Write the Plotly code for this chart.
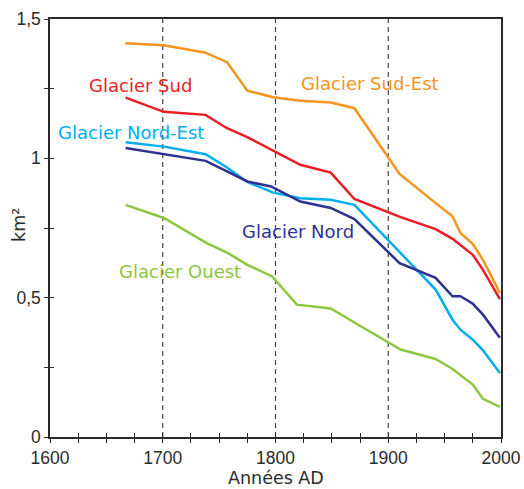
import plotly.graph_objects as go

# Glacier surfaces (km²)
years_sud_est = [1667, 1701, 1738, 1757, 1775, 1798, 1822, 1849, 1870, 1910, 1944, 1957, 1964, 1975, 1984, 1999]
area_sud_est = [1.413, 1.406, 1.379, 1.345, 1.243, 1.219, 1.207, 1.200, 1.180, 0.944, 0.833, 0.792, 0.732, 0.692, 0.636, 0.517]

years_sud = [1667, 1701, 1738, 1757, 1775, 1822, 1849, 1870, 1911, 1942, 1957, 1964, 1975, 1984, 1999]
area_sud = [1.218, 1.167, 1.156, 1.108, 1.076, 0.977, 0.949, 0.854, 0.789, 0.746, 0.711, 0.690, 0.654, 0.600, 0.495]

years_nord_est = [1667, 1701, 1738, 1757, 1775, 1798, 1822, 1849, 1870, 1901, 1926, 1942, 1957, 1964, 1975, 1984, 1999]
area_nord_est = [1.058, 1.042, 1.015, 0.967, 0.915, 0.877, 0.857, 0.851, 0.833, 0.702, 0.600, 0.529, 0.421, 0.385, 0.349, 0.311, 0.230]

years_nord = [1667, 1701, 1738, 1757, 1775, 1796, 1822, 1849, 1870, 1910, 1942, 1957, 1964, 1975, 1984, 1999]
area_nord = [1.037, 1.016, 0.991, 0.953, 0.917, 0.899, 0.845, 0.822, 0.782, 0.624, 0.571, 0.505, 0.505, 0.478, 0.439, 0.356]

years_ouest = [1667, 1701, 1739, 1757, 1775, 1797, 1819, 1849, 1870, 1911, 1942, 1957, 1975, 1984, 1999]
area_ouest = [0.833, 0.786, 0.696, 0.662, 0.618, 0.576, 0.475, 0.461, 0.411, 0.314, 0.280, 0.244, 0.188, 0.137, 0.108]

series = [
    ("Glacier Sud-Est", years_sud_est, area_sud_est, "#F7941D", 1884, 1.267),
    ("Glacier Sud", years_sud, area_sud, "#ED1C24", 1680, 1.26),
    ("Glacier Nord-Est", years_nord_est, area_nord_est, "#00AEEF", 1672, 1.091),
    ("Glacier Nord", years_nord, area_nord, "#2E3192", 1820, 0.737),
    ("Glacier Ouest", years_ouest, area_ouest, "#8DC63F", 1715, 0.593),
]

ref_years = [1700, 1800, 1900]
y_ticks = [0, 0.5, 1, 1.5]
y_ticktext = ["0", "0,5", "1", "1,5"]
x_ticks = [1600, 1700, 1800, 1900, 2000]

LABEL_FONT = "DejaVu Sans"
TICK_FONT = "Liberation Sans"
AXIS_COL = "#2b2b2b"

fig = go.Figure()

for name, xs, ys, col, lx, ly in series:
    fig.add_trace(go.Scatter(x=xs, y=ys, mode="lines", name=name,
                             line={"color": col, "width": 2.5}))
    fig.add_annotation(x=lx, y=ly, text=name, showarrow=False,
                       font={"color": col, "size": 18, "family": LABEL_FONT})

for yr in ref_years:
    fig.add_shape(type="line", x0=yr, x1=yr, xref="x", y0=0, y1=1, yref="paper",
                  line={"color": "#444444", "width": 1.2, "dash": "5px,4px"}, layer="below")

# axis titles as free text, like in the original layout
fig.add_annotation(x=0.5, y=0, xref="paper", yref="paper", xanchor="center", yanchor="middle",
                   yshift=-41, text="Années AD", showarrow=False,
                   font={"size": 17.5, "color": AXIS_COL, "family": LABEL_FONT})
fig.add_annotation(x=0, y=0.5, xref="paper", yref="paper", xanchor="center", yanchor="middle",
                   xshift=-31, yshift=3, text="km²", textangle=-90, showarrow=False,
                   font={"size": 17.5, "color": AXIS_COL, "family": LABEL_FONT})

axis_common = dict(showline=True, linecolor=AXIS_COL, linewidth=1.5, mirror=True,
                   showgrid=False, zeroline=False, ticks="outside", ticklen=4,
                   tickcolor=AXIS_COL, tickwidth=1.2, automargin=False,
                   tickfont={"size": 17.5, "color": AXIS_COL, "family": TICK_FONT})
inner = dict(showline=False, showgrid=False, zeroline=False, ticks="inside", ticklen=4,
             tickcolor=AXIS_COL, tickwidth=1.2, showticklabels=False, automargin=False)

fig.update_layout(
    width=524, height=489,
    margin={"l": 50, "r": 23, "t": 19, "b": 52},
    paper_bgcolor="white", plot_bgcolor="white",
    showlegend=False,
    font={"family": LABEL_FONT, "color": AXIS_COL},
    xaxis=dict(axis_common, range=[1600, 2000], tickvals=x_ticks,
               minor={"ticks": "outside", "dtick": 25, "ticklen": 4, "tickcolor": AXIS_COL}),
    yaxis=dict(axis_common, range=[0, 1.5], tickvals=y_ticks, ticktext=y_ticktext,
               minor={"ticks": "outside", "dtick": 0.25, "ticklen": 4, "tickcolor": AXIS_COL}),
    xaxis2=dict(inner, overlaying="x", anchor="y", side="bottom", range=[1600, 2000], dtick=25),
    yaxis2=dict(inner, overlaying="y", anchor="x", side="left", range=[0, 1.5], dtick=0.25),
)
# invisible trace so the inner tick axes are drawn
fig.add_trace(go.Scatter(x=[None], y=[None], xaxis="x2", yaxis="y2", showlegend=False))

fig.write_html("out.html", config={"displayModeBar": False},
               post_script="document.body.style.margin='0';")
